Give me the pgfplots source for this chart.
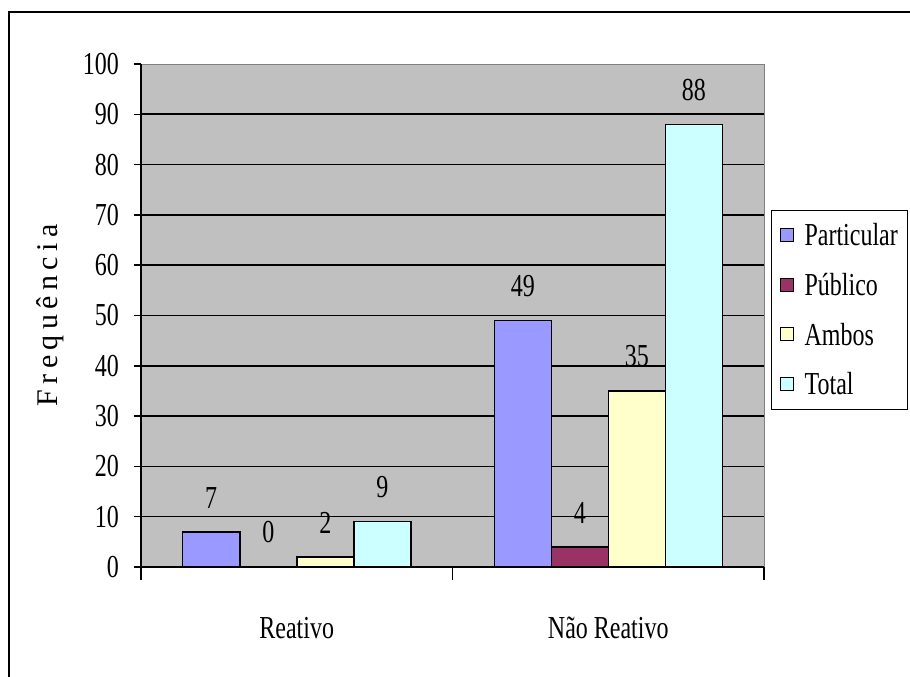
\documentclass[border=0pt]{standalone}
\usepackage{fontspec}
\setmainfont{Liberation Serif}[FakeStretch=0.75]
\newfontfamily\labelfont{Liberation Serif}[LetterSpace=18]
\usepackage{pgfplots}
\pgfplotsset{compat=1.18}

\definecolor{particular}{HTML}{9999FF}
\definecolor{publico}{HTML}{993366}
\definecolor{ambos}{HTML}{FFFFCC}
\definecolor{total}{HTML}{CCFFFF}
\definecolor{plotbg}{HTML}{C0C0C0}

\newcommand\chartfont{\fontsize{32pt}{38pt}\selectfont}

\begin{document}
\begin{tikzpicture}[x=1pt,y=1pt]
\useasboundingbox (0,0) rectangle (910,677);
% chart frame (top and left edges)
\draw[line width=1.5pt] (9,-5) -- (9,665) -- (915,665);
\begin{axis}[
  at={(141pt,110pt)}, anchor=south west,
  scale only axis, width=623pt, height=503pt,
  ybar=0pt, bar width=57pt,
  xmin=-0.5, xmax=1.5, ymin=0, ymax=100,
  axis background/.style={fill=plotbg, draw=gray},
  axis x line*=bottom, axis y line*=left,
  axis line style={black, line width=1.6pt, -},
  tick style={black, line width=1.5pt},
  tick align=outside,
  xtick={0,1}, xticklabels={Reativo, Não Reativo},
  major x tick style={draw=none},
  extra x ticks={-0.5,0.5,1.5},
  extra x tick labels={{},{},{}},
  extra x tick style={major tick length=13pt, grid=none, major x tick style={draw=black}},
  ytick={0,10,...,90},
  extra y ticks={100},
  extra y tick style={grid=none},
  major tick length=7pt,
  ymajorgrids,
  grid style={black, line width=1.6pt},
  /pgf/number format/assume math mode=true,
  yticklabel style={font=\chartfont, inner sep=0pt, xshift=-15pt},
  xticklabel style={font=\chartfont, anchor=base, yshift=-64pt},
  ylabel={Frequência},
  ylabel style={font=\labelfont\fontsize{30pt}{36pt}\selectfont,
    at={(axis description cs:-0.146,0.5)}, anchor=center},
  nodes near coords,
  every node near coord/.append style={font=\chartfont, inner sep=0pt, anchor=south, yshift=23pt, black},
  legend style={at={(1.0112,0.7097)}, anchor=north west, draw=black,
    line width=1.2pt, fill=white, font=\chartfont, row sep=22pt,
    inner xsep=8pt, inner ysep=11pt,
    /tikz/every odd column/.append style={column sep=9pt}},
  legend cell align=left,
  legend image code/.code={\draw[#1, line width=1pt] (0pt,-6pt) rectangle (13pt,7pt);},
]
\addplot[fill=particular, draw=black, line width=1.5pt] coordinates {(0,7) (1,49)};
\addplot[fill=publico, draw=black, line width=1.5pt] coordinates {(0,0) (1,4)};
\addplot[fill=ambos, draw=black, line width=1.5pt] coordinates {(0,2) (1,35)};
\addplot[fill=total, draw=black, line width=1.5pt] coordinates {(0,9) (1,88)};
\legend{Particular, Público, Ambos, Total}
\end{axis}
\end{tikzpicture}
\end{document}
